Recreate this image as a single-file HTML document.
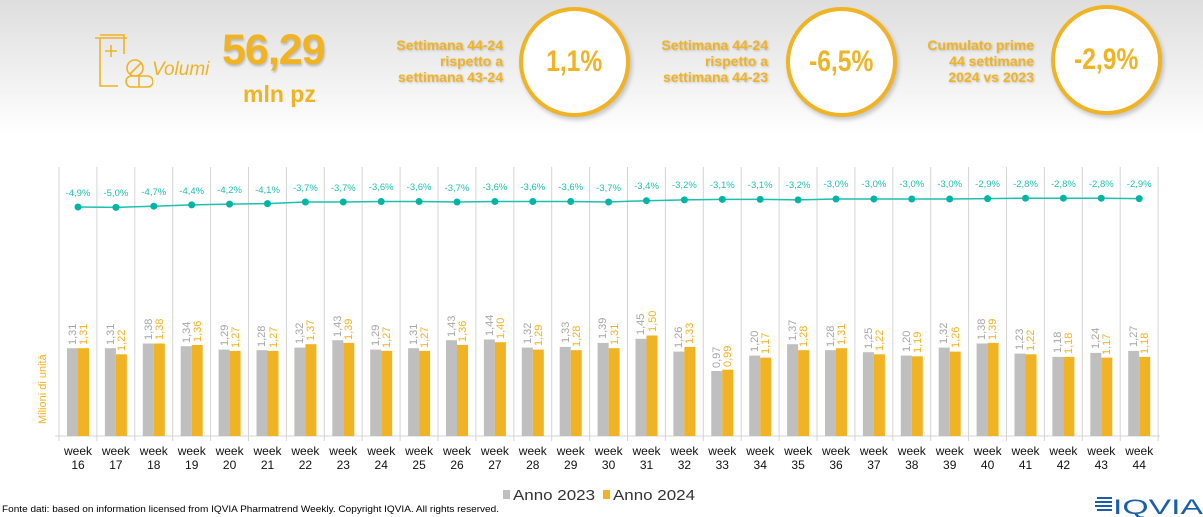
<!DOCTYPE html>
<html><head><meta charset="utf-8"><style>
body{margin:0;width:1203px;height:517px;overflow:hidden;background:#fff;font-family:"Liberation Sans",sans-serif;position:relative}
.hdr{position:absolute;left:0;top:0;width:1203px;height:135px;background:linear-gradient(#dedede,#fff)}
.o{color:#f0b323;position:absolute;font-weight:bold}
.circ{position:absolute;width:103px;height:102px;border:4px solid #f0b323;border-radius:50%;background:#fff;box-shadow:2px 3px 4px rgba(0,0,0,.2);display:flex;align-items:center;justify-content:center;color:#f0b323;font-weight:bold;font-size:30px}
.circ span{display:inline-block;transform:scaleX(.82)}
.lbl{position:absolute;text-align:right;color:#f0b323;font-weight:bold;font-size:14px;line-height:16px;text-shadow:1px 1px 2px rgba(0,0,0,.2)}
</style></head><body>
<div class="hdr"></div>
<svg style="position:absolute;left:93px;top:32px" width="60" height="60" viewBox="0 0 60 60" fill="none" stroke="#f0b323" stroke-width="1.6">
<path d="M2 6H34M7 6V54H25M7 3H31V6M31 6V22"/><path d="M12 19H24M18 13V25"/>
<circle cx="42" cy="36" r="8"/><path d="M37 42L48 31"/><rect x="33" y="44" width="27" height="11" rx="5.5"/><path d="M46 44V55"/>
</svg>
<div class="o" style="left:152px;top:59px;font-size:19px;font-weight:normal;font-style:italic">Volumi</div>
<div class="o" style="left:222px;top:26px;font-size:43px;letter-spacing:-1px;text-shadow:1px 2px 2px rgba(0,0,0,.2)">56,29</div>
<div class="o" style="left:243px;top:81px;font-size:23px">mln pz</div>
<div class="lbl" style="left:340px;top:37px;width:163px">Settimana 44-24<br>rispetto a<br>settimana 43-24</div>
<div class="circ" style="left:519px;top:7px"><span>1,1%</span></div>
<div class="lbl" style="left:600px;top:37px;width:168px">Settimana 44-24<br>rispetto a<br>settimana 44-23</div>
<div class="circ" style="left:786px;top:7px"><span>-6,5%</span></div>
<div class="lbl" style="left:870px;top:37px;width:164px">Cumulato prime<br>44 settimane<br>2024 vs 2023</div>
<div class="circ" style="left:1051px;top:5px"><span>-2,9%</span></div>

<svg style="position:absolute;left:0;top:0" width="1203" height="517">
<g stroke="#d4d4d4" stroke-width="1">
<path d="M59 167V441M96.9 167V441M134.8 167V441M172.7 167V441M210.6 167V441M248.5 167V441M286.4 167V441M324.3 167V441M362.2 167V441M400.1 167V441M438 167V441M475.9 167V441M513.8 167V441M551.7 167V441M589.6 167V441M627.5 167V441M665.4 167V441M703.3 167V441M741.2 167V441M779.1 167V441M817 167V441M854.9 167V441M892.8 167V441M930.7 167V441M968.6 167V441M1006.5 167V441M1044.4 167V441M1082.3 167V441M1120.2 167V441M1158.1 167V441"/>
<path d="M55 436H1160"/>
</g>
<text transform="translate(46,424) rotate(-90)" fill="#f0b323" font-size="11">Milioni di unità</text>
<g fill="#bfbfbf">
<rect x="67" y="348.2" width="11" height="87.8"/><rect x="104.9" y="348.2" width="11" height="87.8"/><rect x="142.8" y="343.5" width="11" height="92.5"/><rect x="180.7" y="346.2" width="11" height="89.8"/><rect x="218.6" y="349.6" width="11" height="86.4"/><rect x="256.5" y="350.2" width="11" height="85.8"/><rect x="294.4" y="347.6" width="11" height="88.4"/><rect x="332.3" y="340.2" width="11" height="95.8"/><rect x="370.2" y="349.6" width="11" height="86.4"/><rect x="408.1" y="348.2" width="11" height="87.8"/><rect x="446" y="340.2" width="11" height="95.8"/><rect x="483.9" y="339.5" width="11" height="96.5"/><rect x="521.8" y="347.6" width="11" height="88.4"/><rect x="559.7" y="346.9" width="11" height="89.1"/><rect x="597.6" y="342.9" width="11" height="93.1"/><rect x="635.5" y="338.8" width="11" height="97.2"/><rect x="673.4" y="351.6" width="11" height="84.4"/><rect x="711.3" y="371" width="11" height="65"/><rect x="749.2" y="355.6" width="11" height="80.4"/><rect x="787.1" y="344.2" width="11" height="91.8"/><rect x="825" y="350.2" width="11" height="85.8"/><rect x="862.9" y="352.2" width="11" height="83.8"/><rect x="900.8" y="355.6" width="11" height="80.4"/><rect x="938.7" y="347.6" width="11" height="88.4"/><rect x="976.6" y="343.5" width="11" height="92.5"/><rect x="1014.5" y="353.6" width="11" height="82.4"/><rect x="1052.4" y="356.9" width="11" height="79.1"/><rect x="1090.3" y="352.9" width="11" height="83.1"/><rect x="1128.2" y="350.9" width="11" height="85.1"/>
</g>
<g fill="#f0b323">
<rect x="78" y="348.2" width="11" height="87.8"/><rect x="115.9" y="354.3" width="11" height="81.7"/><rect x="153.8" y="343.5" width="11" height="92.5"/><rect x="191.7" y="344.9" width="11" height="91.1"/><rect x="229.6" y="350.9" width="11" height="85.1"/><rect x="267.5" y="350.9" width="11" height="85.1"/><rect x="305.4" y="344.2" width="11" height="91.8"/><rect x="343.3" y="342.9" width="11" height="93.1"/><rect x="381.2" y="350.9" width="11" height="85.1"/><rect x="419.1" y="350.9" width="11" height="85.1"/><rect x="457" y="344.9" width="11" height="91.1"/><rect x="494.9" y="342.2" width="11" height="93.8"/><rect x="532.8" y="349.6" width="11" height="86.4"/><rect x="570.7" y="350.2" width="11" height="85.8"/><rect x="608.6" y="348.2" width="11" height="87.8"/><rect x="646.5" y="335.5" width="11" height="100.5"/><rect x="684.4" y="346.9" width="11" height="89.1"/><rect x="722.3" y="369.7" width="11" height="66.3"/><rect x="760.2" y="357.6" width="11" height="78.4"/><rect x="798.1" y="350.2" width="11" height="85.8"/><rect x="836" y="348.2" width="11" height="87.8"/><rect x="873.9" y="354.3" width="11" height="81.7"/><rect x="911.8" y="356.3" width="11" height="79.7"/><rect x="949.7" y="351.6" width="11" height="84.4"/><rect x="987.6" y="342.9" width="11" height="93.1"/><rect x="1025.5" y="354.3" width="11" height="81.7"/><rect x="1063.4" y="356.9" width="11" height="79.1"/><rect x="1101.3" y="357.6" width="11" height="78.4"/><rect x="1139.2" y="356.9" width="11" height="79.1"/>
</g>
<g font-size="11" fill="#a6a6a6">
<text transform="translate(76,345) rotate(-90)">1,31</text><text transform="translate(114,345) rotate(-90)">1,31</text><text transform="translate(152,340) rotate(-90)">1,38</text><text transform="translate(190,343) rotate(-90)">1,34</text><text transform="translate(228,346) rotate(-90)">1,29</text><text transform="translate(265,347) rotate(-90)">1,28</text><text transform="translate(303,344) rotate(-90)">1,32</text><text transform="translate(341,337) rotate(-90)">1,43</text><text transform="translate(379,346) rotate(-90)">1,29</text><text transform="translate(417,345) rotate(-90)">1,31</text><text transform="translate(455,337) rotate(-90)">1,43</text><text transform="translate(493,336) rotate(-90)">1,44</text><text transform="translate(531,344) rotate(-90)">1,32</text><text transform="translate(569,343) rotate(-90)">1,33</text><text transform="translate(606,339) rotate(-90)">1,39</text><text transform="translate(644,335) rotate(-90)">1,45</text><text transform="translate(682,348) rotate(-90)">1,26</text><text transform="translate(720,368) rotate(-90)">0,97</text><text transform="translate(758,352) rotate(-90)">1,20</text><text transform="translate(796,341) rotate(-90)">1,37</text><text transform="translate(834,347) rotate(-90)">1,28</text><text transform="translate(872,349) rotate(-90)">1,25</text><text transform="translate(910,352) rotate(-90)">1,20</text><text transform="translate(947,344) rotate(-90)">1,32</text><text transform="translate(985,340) rotate(-90)">1,38</text><text transform="translate(1023,350) rotate(-90)">1,23</text><text transform="translate(1061,353) rotate(-90)">1,18</text><text transform="translate(1099,349) rotate(-90)">1,24</text><text transform="translate(1137,347) rotate(-90)">1,27</text>
</g>
<g font-size="11" fill="#f0b323">
<text transform="translate(87,345) rotate(-90)">1,31</text><text transform="translate(125,351) rotate(-90)">1,22</text><text transform="translate(163,340) rotate(-90)">1,38</text><text transform="translate(201,342) rotate(-90)">1,36</text><text transform="translate(239,348) rotate(-90)">1,27</text><text transform="translate(277,348) rotate(-90)">1,27</text><text transform="translate(314,341) rotate(-90)">1,37</text><text transform="translate(352,340) rotate(-90)">1,39</text><text transform="translate(390,348) rotate(-90)">1,27</text><text transform="translate(428,348) rotate(-90)">1,27</text><text transform="translate(466,342) rotate(-90)">1,36</text><text transform="translate(504,339) rotate(-90)">1,40</text><text transform="translate(542,346) rotate(-90)">1,29</text><text transform="translate(580,347) rotate(-90)">1,28</text><text transform="translate(618,345) rotate(-90)">1,31</text><text transform="translate(656,332) rotate(-90)">1,50</text><text transform="translate(693,344) rotate(-90)">1,33</text><text transform="translate(731,367) rotate(-90)">0,99</text><text transform="translate(769,354) rotate(-90)">1,17</text><text transform="translate(807,347) rotate(-90)">1,28</text><text transform="translate(845,345) rotate(-90)">1,31</text><text transform="translate(883,351) rotate(-90)">1,22</text><text transform="translate(921,353) rotate(-90)">1,19</text><text transform="translate(959,348) rotate(-90)">1,26</text><text transform="translate(996,340) rotate(-90)">1,39</text><text transform="translate(1034,351) rotate(-90)">1,22</text><text transform="translate(1072,354) rotate(-90)">1,18</text><text transform="translate(1110,355) rotate(-90)">1,17</text><text transform="translate(1148,354) rotate(-90)">1,18</text>
</g>
<polyline fill="none" stroke="#1ebfaf" stroke-width="1.5" points="78,207 115.9,207.4 153.8,206.2 191.7,204.9 229.6,204.1 267.5,203.6 305.4,202 343.3,202 381.2,201.5 419.1,201.5 457,202 494.9,201.5 532.8,201.5 570.7,201.5 608.6,202 646.5,200.7 684.4,199.9 722.3,199.4 760.2,199.4 798.1,199.9 836,199 873.9,199 911.8,199 949.7,199 987.6,198.6 1025.5,198.2 1063.4,198.2 1101.3,198.2 1139.2,198.6"/>
<g fill="#00b5a3">
<circle cx="78" cy="207" r="3.5"/><circle cx="115.9" cy="207.4" r="3.5"/><circle cx="153.8" cy="206.2" r="3.5"/><circle cx="191.7" cy="204.9" r="3.5"/><circle cx="229.6" cy="204.1" r="3.5"/><circle cx="267.5" cy="203.6" r="3.5"/><circle cx="305.4" cy="202" r="3.5"/><circle cx="343.3" cy="202" r="3.5"/><circle cx="381.2" cy="201.5" r="3.5"/><circle cx="419.1" cy="201.5" r="3.5"/><circle cx="457" cy="202" r="3.5"/><circle cx="494.9" cy="201.5" r="3.5"/><circle cx="532.8" cy="201.5" r="3.5"/><circle cx="570.7" cy="201.5" r="3.5"/><circle cx="608.6" cy="202" r="3.5"/><circle cx="646.5" cy="200.7" r="3.5"/><circle cx="684.4" cy="199.9" r="3.5"/><circle cx="722.3" cy="199.4" r="3.5"/><circle cx="760.2" cy="199.4" r="3.5"/><circle cx="798.1" cy="199.9" r="3.5"/><circle cx="836" cy="199" r="3.5"/><circle cx="873.9" cy="199" r="3.5"/><circle cx="911.8" cy="199" r="3.5"/><circle cx="949.7" cy="199" r="3.5"/><circle cx="987.6" cy="198.6" r="3.5"/><circle cx="1025.5" cy="198.2" r="3.5"/><circle cx="1063.4" cy="198.2" r="3.5"/><circle cx="1101.3" cy="198.2" r="3.5"/><circle cx="1139.2" cy="198.6" r="3.5"/>
</g>
<g font-size="9.5" fill="#1ebfaf" text-anchor="middle">
<text x="78" y="196">-4,9%</text><text x="115.9" y="196">-5,0%</text><text x="153.8" y="195">-4,7%</text><text x="191.7" y="194">-4,4%</text><text x="229.6" y="193">-4,2%</text><text x="267.5" y="193">-4,1%</text><text x="305.4" y="191">-3,7%</text><text x="343.3" y="191">-3,7%</text><text x="381.2" y="190">-3,6%</text><text x="419.1" y="190">-3,6%</text><text x="457" y="191">-3,7%</text><text x="494.9" y="190">-3,6%</text><text x="532.8" y="190">-3,6%</text><text x="570.7" y="190">-3,6%</text><text x="608.6" y="191">-3,7%</text><text x="646.5" y="189">-3,4%</text><text x="684.4" y="188">-3,2%</text><text x="722.3" y="188">-3,1%</text><text x="760.2" y="188">-3,1%</text><text x="798.1" y="188">-3,2%</text><text x="836" y="187">-3,0%</text><text x="873.9" y="187">-3,0%</text><text x="911.8" y="187">-3,0%</text><text x="949.7" y="187">-3,0%</text><text x="987.6" y="187">-2,9%</text><text x="1025.5" y="187">-2,8%</text><text x="1063.4" y="187">-2,8%</text><text x="1101.3" y="187">-2,8%</text><text x="1139.2" y="187">-2,9%</text>
</g>
<g font-size="12" fill="#111" text-anchor="middle">
<g transform="translate(0,455)"><text x="78">week</text><text x="115.9">week</text><text x="153.8">week</text><text x="191.7">week</text><text x="229.6">week</text><text x="267.5">week</text><text x="305.4">week</text><text x="343.3">week</text><text x="381.2">week</text><text x="419.1">week</text><text x="457">week</text><text x="494.9">week</text><text x="532.8">week</text><text x="570.7">week</text><text x="608.6">week</text><text x="646.5">week</text><text x="684.4">week</text><text x="722.3">week</text><text x="760.2">week</text><text x="798.1">week</text><text x="836">week</text><text x="873.9">week</text><text x="911.8">week</text><text x="949.7">week</text><text x="987.6">week</text><text x="1025.5">week</text><text x="1063.4">week</text><text x="1101.3">week</text><text x="1139.2">week</text></g>
<g transform="translate(0,469)"><text x="78">16</text><text x="115.9">17</text><text x="153.8">18</text><text x="191.7">19</text><text x="229.6">20</text><text x="267.5">21</text><text x="305.4">22</text><text x="343.3">23</text><text x="381.2">24</text><text x="419.1">25</text><text x="457">26</text><text x="494.9">27</text><text x="532.8">28</text><text x="570.7">29</text><text x="608.6">30</text><text x="646.5">31</text><text x="684.4">32</text><text x="722.3">33</text><text x="760.2">34</text><text x="798.1">35</text><text x="836">36</text><text x="873.9">37</text><text x="911.8">38</text><text x="949.7">39</text><text x="987.6">40</text><text x="1025.5">41</text><text x="1063.4">42</text><text x="1101.3">43</text><text x="1139.2">44</text></g>
</g>
<rect x="503" y="490" width="7" height="9" fill="#bfbfbf"/>
<text x="513" y="500" font-size="15" fill="#333" textLength="82" lengthAdjust="spacingAndGlyphs">Anno 2023</text>
<rect x="603" y="490" width="7" height="9" fill="#f0b323"/>
<text x="613" y="500" font-size="15" fill="#333" textLength="82" lengthAdjust="spacingAndGlyphs">Anno 2024</text>
<text x="2" y="512" font-size="9" fill="#000" textLength="497" lengthAdjust="spacingAndGlyphs">Fonte dati: based on information licensed from IQVIA Pharmatrend Weekly. Copyright IQVIA. All rights reserved.</text>
<g fill="#1a5fa8"><rect x="1097" y="497" width="15" height="2"/><rect x="1095" y="501" width="17" height="2"/><rect x="1095" y="505" width="17" height="2"/><rect x="1097" y="509" width="15" height="2"/></g>
<text x="1113" y="514" font-size="21" fill="#1a5fa8" textLength="90" lengthAdjust="spacingAndGlyphs">IQVIA</text>
</svg>
</body></html>
